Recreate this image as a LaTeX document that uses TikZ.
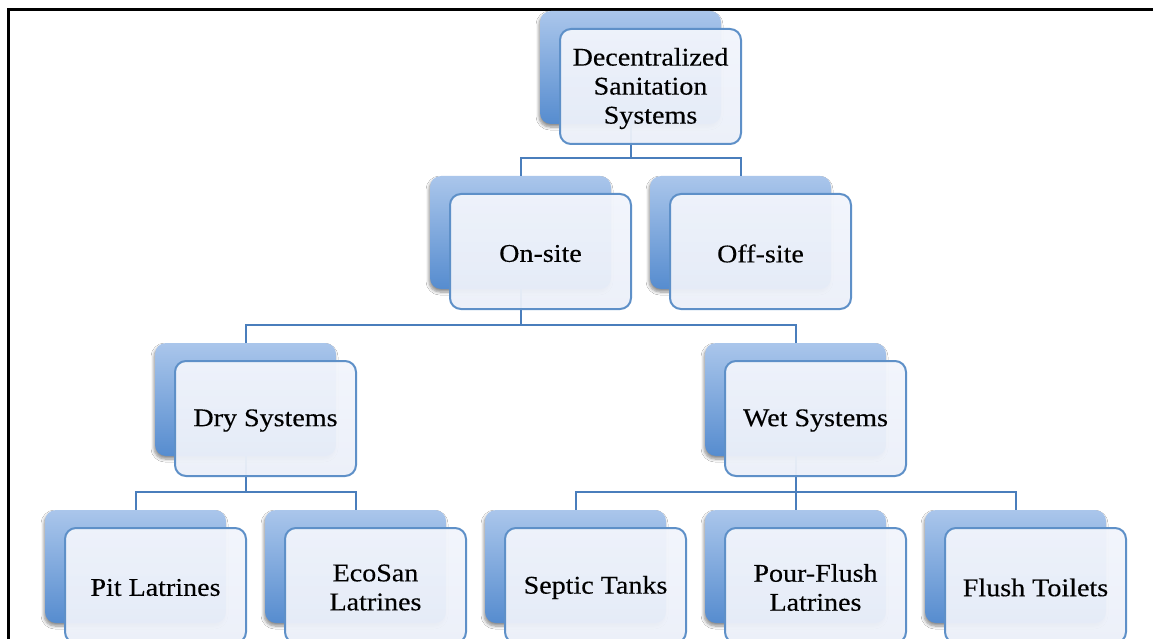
\documentclass[tikz,border=0pt]{standalone}
\usepackage{fontspec}
\setmainfont{Liberation Serif}[FakeStretch=1.1, FakeBold=0.3]
\usetikzlibrary{shadows.blur}
\definecolor{backtop}{RGB}{170,198,235}
\definecolor{backbot}{RGB}{86,140,207}
\definecolor{frontline}{RGB}{94,144,200}
\definecolor{frontfilltop}{RGB}{242,245,252}
\definecolor{frontfillbot}{RGB}{236,240,249}
\definecolor{linkcol}{RGB}{74,126,188}
\tikzset{
  backbox/.style={rounded corners=11pt, minimum width=181pt, minimum height=113pt,
    inner sep=0pt, outer sep=0pt, top color=backtop, bottom color=backbot, draw=none,
    blur shadow={shadow xshift=-1pt, shadow yshift=-3pt, shadow opacity=45,
      shadow blur steps=6, shadow blur radius=3pt}},
  frontbox/.style={rounded corners=11pt, minimum width=181pt, minimum height=115pt,
    inner sep=0pt, outer sep=0pt, draw=frontline, line width=2pt,
    top color=frontfilltop, bottom color=frontfillbot, fill opacity=0.95},
  labeltext/.style={align=center, inner sep=0pt, text=black,
    font=\fontsize{25.5}{29}\selectfont},
  link/.style={draw=linkcol, line width=2pt},
}
\begin{document}
\begin{tikzpicture}[x=1pt, y=-1pt]
\useasboundingbox (0,0) rectangle (1153,639);
\fill[white] (0,0) rectangle (1153,639);

% page frame (top and left edges)
\draw[line width=2.5pt, black] (8.7,639) -- (8.7,9.3) -- (1153,9.3);

% back (shaded) boxes
\node[backbox] (rootB)  at (630.5,67.5) {};
\node[backbox] (onB)    at (520.5,232.5) {};
\node[backbox] (offB)   at (740.5,232.5) {};
\node[backbox] (dryB)   at (245.5,399.5) {};
\node[backbox] (wetB)   at (795.5,399.5) {};
\node[backbox] (pitB)   at (135.5,566.5) {};
\node[backbox] (ecoB)   at (355.5,566.5) {};
\node[backbox] (sepB)   at (575.5,566.5) {};
\node[backbox] (pourB)  at (795.5,566.5) {};
\node[backbox] (flushB) at (1015.5,566.5) {};

% connectors
\draw[link] (rootB.south) |- ([yshift=18pt]onB.north) -- (onB.north);
\draw[link] (rootB.south) |- ([yshift=18pt]offB.north) -- (offB.north);
\draw[link] (onB.south) |- ([yshift=18pt]dryB.north) -- (dryB.north);
\draw[link] (onB.south) |- ([yshift=18pt]wetB.north) -- (wetB.north);
\draw[link] (dryB.south) |- ([yshift=18pt]pitB.north) -- (pitB.north);
\draw[link] (dryB.south) |- ([yshift=18pt]ecoB.north) -- (ecoB.north);
\draw[link] (wetB.south) |- ([yshift=18pt]sepB.north) -- (sepB.north);
\draw[link] (wetB.south) |- ([yshift=18pt]pourB.north) -- (pourB.north);
\draw[link] (wetB.south) |- ([yshift=18pt]flushB.north) -- (flushB.north);

% front boxes
\node[frontbox] (rootF)  at (650.5,86.5)  {};
\node[frontbox] (onF)    at (540.5,251.5) {};
\node[frontbox] (offF)   at (760.5,251.5) {};
\node[frontbox] (dryF)   at (265.5,418.5) {};
\node[frontbox] (wetF)   at (815.5,418.5) {};
\node[frontbox] (pitF)   at (155.5,585.5) {};
\node[frontbox] (ecoF)   at (375.5,585.5) {};
\node[frontbox] (sepF)   at (595.5,585.5) {};
\node[frontbox] (pourF)  at (815.5,585.5) {};
\node[frontbox] (flushF) at (1035.5,585.5) {};

% labels
\node[labeltext] (rootT)  at ([yshift=-2pt]rootF.center)  {Decentralized\\Sanitation\\Systems};
\node[labeltext] (onT)    at ([yshift=-2pt]onF.center)    {On-site};
\node[labeltext] (offT)   at ([yshift=-2pt]offF.center)   {Off-site};
\node[labeltext] (dryT)   at ([yshift=-2pt]dryF.center)   {Dry Systems};
\node[labeltext] (wetT)   at ([yshift=-2pt]wetF.center)   {Wet Systems};
\node[labeltext] (pitT)   at ([yshift=-2pt]pitF.center)   {Pit Latrines};
\node[labeltext] (ecoT)   at ([yshift=-2pt]ecoF.center)   {EcoSan\\Latrines};
\node[labeltext] (sepT)   at ([yshift=-2pt]sepF.center)   {Septic Tanks};
\node[labeltext] (pourT)  at ([yshift=-2pt]pourF.center)  {Pour-Flush\\Latrines};
\node[labeltext] (flushT) at ([yshift=-2pt]flushF.center) {Flush Toilets};
\end{tikzpicture}
\end{document}
